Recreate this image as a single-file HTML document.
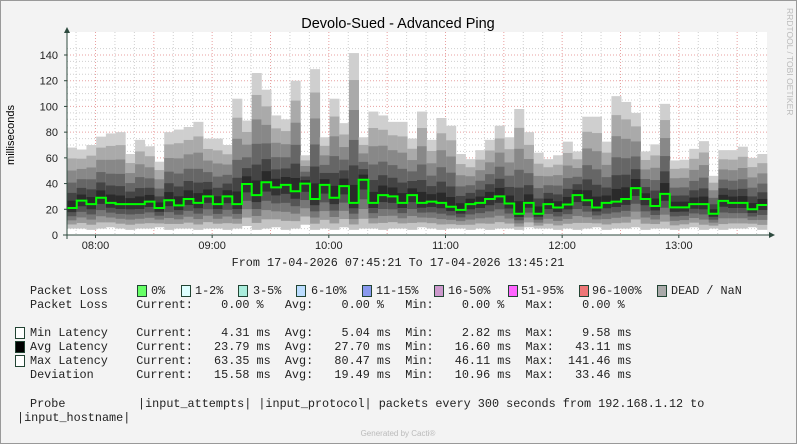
<!DOCTYPE html>
<html><head><meta charset="utf-8"><style>
html,body{margin:0;padding:0;}
body{width:797px;height:444px;overflow:hidden;background:#f3f3f3;position:relative;font-family:"Liberation Sans",sans-serif;}
.lg{position:absolute;font-family:"Liberation Mono",monospace;font-size:11.8px;white-space:pre;color:#222;line-height:14px;}
.sw{position:absolute;width:8px;height:10px;border:1px solid #224433;}
</style></head><body>
<svg id="chart" width="797" height="444" style="position:absolute;left:0;top:0">
<rect x="0.5" y="0.5" width="796" height="443" fill="none" stroke="#999"/>
<text x="398" y="28" text-anchor="middle" font-size="14.5" fill="#000">Devolo-Sued - Advanced Ping</text>
<text transform="translate(14,135) rotate(-90)" text-anchor="middle" font-size="11" fill="#000">milliseconds</text>
<text transform="translate(787,8) rotate(90)" font-size="8.5" fill="#bbb">RRDTOOL / TOBI OETIKER</text>
<rect x="67" y="32" width="700" height="203" fill="#fff"/>
<g id="grid"></g>
<g id="smoke"></g>
<g id="line"></g>
<g id="axes"></g>
<text x="398" y="266" text-anchor="middle" font-family="Liberation Mono,monospace" font-size="11.8" fill="#222">From 17-04-2026 07:45:21 To 17-04-2026 13:45:21</text>
<text x="398" y="436" text-anchor="middle" font-size="8" fill="#bbb">Generated by Cacti®</text>
</svg>

<div class="lg" style="left:30px;top:284px">Packet Loss</div>
<div class="sw" style="left:137px;top:285px;background:#66ff66"></div><div class="lg" style="left:151px;top:284px">0%</div>
<div class="sw" style="left:181px;top:285px;background:#ddffff"></div><div class="lg" style="left:195px;top:284px">1-2%</div>
<div class="sw" style="left:238px;top:285px;background:#aaeedd"></div><div class="lg" style="left:253px;top:284px">3-5%</div>
<div class="sw" style="left:296px;top:285px;background:#bbddff"></div><div class="lg" style="left:311px;top:284px">6-10%</div>
<div class="sw" style="left:362px;top:285px;background:#8899ee"></div><div class="lg" style="left:376px;top:284px">11-15%</div>
<div class="sw" style="left:434px;top:285px;background:#cc99cc"></div><div class="lg" style="left:448px;top:284px">16-50%</div>
<div class="sw" style="left:508px;top:285px;background:#ff66ff"></div><div class="lg" style="left:521px;top:284px">51-95%</div>
<div class="sw" style="left:579px;top:285px;background:#ee7777"></div><div class="lg" style="left:592px;top:284px">96-100%</div>
<div class="sw" style="left:657px;top:285px;background:#aaaaaa"></div><div class="lg" style="left:671px;top:284px">DEAD / NaN</div>

<div class="lg" style="left:30px;top:298px">Packet Loss    Current:    0.00 %   Avg:    0.00 %   Min:    0.00 %   Max:    0.00 %</div>
<div class="sw" style="left:15px;top:327px;background:#fff"></div>
<div class="lg" style="left:30px;top:326px">Min Latency    Current:    4.31 ms  Avg:    5.04 ms  Min:    2.82 ms  Max:    9.58 ms</div>
<div class="sw" style="left:15px;top:341px;background:#000"></div>
<div class="lg" style="left:30px;top:340px">Avg Latency    Current:   23.79 ms  Avg:   27.70 ms  Min:   16.60 ms  Max:   43.11 ms</div>
<div class="sw" style="left:15px;top:355px;background:#fff"></div>
<div class="lg" style="left:30px;top:354px">Max Latency    Current:   63.35 ms  Avg:   80.47 ms  Min:   46.11 ms  Max:  141.46 ms</div>
<div class="lg" style="left:30px;top:368px">Deviation      Current:   15.58 ms  Avg:   19.49 ms  Min:   10.96 ms  Max:   33.46 ms</div>
<div class="lg" style="left:30px;top:397px">Probe</div>
<div class="lg" style="left:138px;top:397px">|input_attempts| |input_protocol| packets every 300 seconds from 192.168.1.12 to</div>
<div class="lg" style="left:17px;top:411px">|input_hostname|</div>

<script>
const avgLatency = [21,26.7,24,29,25,24,24,24,26,21,27,23,28,25,30,24,30,24,39.7,31,41,37,39,34,40,28,39,29,38,25,43,25,31,30,25,31,25,26,25,22,19.5,24,25,28,30,24.5,16.5,25,16.5,24,21.4,23.7,31,27,21.4,25,26,28,36.5,28,22.6,32,21.5,21.5,24,24,16.5,26.5,25,25,20,23.3];
const maxLatency = [68,66.5,70,76.5,79,80,63,74,69,57,80,82,84,88,75,75,70,106,89,126,113,93,90,120,62,129,76,106,87,141.5,76,96,93,88,88,75,96,74,91,85,63,59,66,74,85,76,98,80,64,59,62,72.6,65,92,92,72.6,108,103.5,95,65,70.5,102,58,58.5,67,73,46,66,66,68.7,60,63];
const minLatency = [5,5,4,5,6,5,4,5,5,6,4,5,5,4,5,5,4,5,7,4,5,6,4,5,8,4,5,4,6,4,5,5,4,5,5,4,6,5,4,5,5,4,5,4,5,5,4,6,5,5,4,5,4,5,6,4,5,5,6,4,5,5,4,5,6,4,5,4,5,5,6,4];
const yTicks = [0,20,40,60,80,100,120,140];
const xTickLabels = ["08:00","09:00","10:00","11:00","12:00","13:00"];
const xTickMinutes = [14.65,74.65,134.65,194.65,254.65,314.65];

const NS="http://www.w3.org/2000/svg";
const X0=67,X1=767,Y0=235,PXMS=180/140,SPAN=360;
const yS=v=>Y0-v*PXMS;
const colW=(X1-X0)/avgLatency.length;
const xCol=i=>X0+i*colW;
const xMin=m=>X0+m*(X1-X0)/SPAN;
function mk(tag,attrs,parent){const e=document.createElementNS(NS,tag);for(const k in attrs)e.setAttribute(k,attrs[k]);parent.appendChild(e);return e;}

const grid=document.getElementById('grid');
for(let v=5;v<=145;v+=5){
  const l=mk('line',{x1:X0,x2:X1,y1:yS(v),y2:yS(v),stroke:v%20===0?'#e8a0a0':'#cfcfcf','stroke-dasharray':'1,2','stroke-width':1},grid);
  
  
}
for(let m=4.65;m<SPAN;m+=10){
  const maj=Math.abs(((m-14.65)%30+30)%30)<0.01;
  const l=mk('line',{x1:xMin(m),x2:xMin(m),y1:32,y2:Y0,stroke:maj?'#e8a0a0':'#cfcfcf','stroke-dasharray':'1,2','stroke-width':1},grid);
  
  
}

const smoke=document.getElementById('smoke');
const upF=[0.12,0.25,0.42,0.62,0.82,1.0], upC=['#2a2a2a','#444','#666','#888','#aaa','#cfcfcf'];
const loF=[0.2,0.4,0.6,0.8,1.0], loC=['#333','#555','#777','#999','#c4c4c4'];
avgLatency.forEach((a,i)=>{
  const mx=maxLatency[i], mn=minLatency[i], x=xCol(i);
  for(let k=upF.length-1;k>=0;k--){
    const top=a+(mx-a)*upF[k];
    const r=mk('rect',{x:x,y:yS(top),width:colW+0.3,height:yS(a)-yS(top),fill:upC[k]},smoke);
    
    
  }
  for(let k=loF.length-1;k>=0;k--){
    const bot=a-(a-mn)*loF[k];
    const r=mk('rect',{x:x,y:yS(a),width:colW+0.3,height:yS(bot)-yS(a),fill:loC[k]},smoke);
    
    
  }
});

let d='';
avgLatency.forEach((a,i)=>{d+=(i?'L':'M')+xCol(i)+','+yS(a)+'L'+(xCol(i)+colW)+','+yS(a);});
const p=mk('path',{d:d,fill:'none',stroke:'#00ff00','stroke-width':2},document.getElementById('line'));



const axes=document.getElementById('axes');
const ya=mk('line',{x1:X0,x2:X0,y1:239,y2:32,stroke:'#2d4a3e','stroke-width':1},axes);


mk('path',{d:'M64,33 L70,33 L67,27 Z',fill:'#2d4a3e'},axes);
const xa=mk('line',{x1:63,x2:770,y1:Y0,y2:Y0,stroke:'#2d4a3e','stroke-width':1},axes);


mk('path',{d:'M769,232 L769,238 L775,235 Z',fill:'#2d4a3e'},axes);
yTicks.forEach(v=>{
  const t=mk('text',{x:58,y:yS(v)+4,'text-anchor':'end','font-size':11,fill:'#222'},axes);
  t.textContent=v;
  
  
  mk('line',{x1:X0-3,x2:X0,y1:yS(v),y2:yS(v),stroke:'#2d4a3e'},axes);
});
xTickLabels.forEach((s,i)=>{
  const x=xMin(xTickMinutes[i]);
  const t=mk('text',{x:x,y:249,'text-anchor':'middle','font-size':11,fill:'#222'},axes);
  t.textContent=s;
  
  
  mk('line',{x1:x,x2:x,y1:Y0,y2:Y0+3,stroke:'#2d4a3e'},axes);
});
</script>
</body></html>
